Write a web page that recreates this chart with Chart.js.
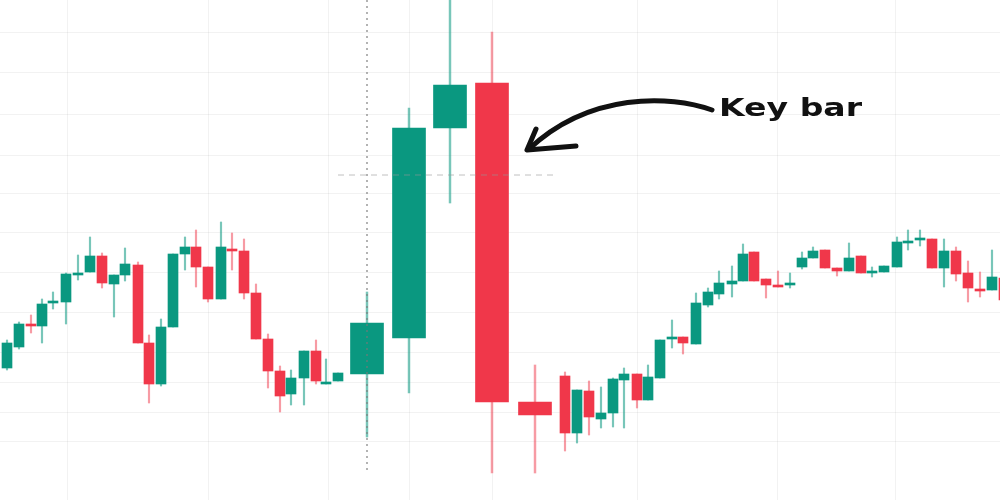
<!DOCTYPE html>
<html>
<head>
<meta charset="utf-8">
<script src="https://cdn.jsdelivr.net/npm/chart.js@4.4.1/dist/chart.umd.min.js"></script>
<style>
  html, body { margin: 0; padding: 0; background: #fff; }
  #wrap { width: 1000px; height: 500px; position: relative; }
</style>
</head>
<body>
<div id="wrap"><canvas id="chart"></canvas></div>
<script>
// time slot of each candle (0..1000 across the view)
const slot = [7, 19, 31, 42, 53, 66, 78, 90, 102, 114, 125, 138, 149, 161, 173, 185, 196, 208, 221, 232,
  244, 256, 268, 280, 291, 304, 316, 326, 338,
  367, 409, 450, 492, 535,
  565, 577, 589, 601, 613, 624, 637, 648, 660, 672, 683, 696, 708, 719, 732, 743, 754, 766, 778, 790,
  802, 813, 825, 837, 849, 861, 872, 884, 897, 908, 920, 932, 944, 956, 968, 980, 992, 1004];

const open = [132, 153, 176, 174, 197, 198, 225, 228, 244, 216, 225, 235, 157, 116, 173, 246, 253, 233, 201, 251,
  249, 207, 161, 129, 106, 122, 149, 116, 119,
  126, 162, 372, 417, 98,
  124, 67, 109, 81, 87, 120, 126, 100, 122, 161, 163, 156, 195, 206, 216, 219, 248, 221, 215, 215,
  233, 242, 250, 232, 229, 244, 227, 228, 233, 257, 260, 261, 232, 249, 227, 211, 210, 222];

const high = [160, 178, 185, 201, 208, 227, 245, 263, 247, 225, 252, 238, 165, 181, 246, 263, 270, 233, 278, 267,
  261, 216, 166, 134, 130, 149, 160, 141, 127,
  208, 392, 505, 468, 135,
  128, 110, 119, 113, 122, 132, 126, 135, 160, 180, 163, 207, 212, 229, 234, 256, 248, 221, 229, 227,
  248, 253, 250, 232, 257, 244, 233, 234, 263, 270, 270, 261, 261, 253, 239, 228, 250, 223];

const low = [130, 151, 167, 157, 191, 176, 220, 228, 212, 183, 219, 157, 97, 114, 173, 230, 213, 198, 201, 230,
  201, 161, 112, 88, 95, 95, 116, 116, 119,
  63, 107, 297, 27, 27,
  49, 57, 65, 72, 73, 72, 92, 100, 122, 152, 146, 156, 193, 201, 203, 219, 219, 202, 213, 212,
  231, 242, 232, 224, 229, 227, 223, 228, 233, 250, 254, 232, 213, 219, 198, 203, 210, 198];

const close = [157, 176, 174, 196, 199, 226, 227, 244, 217, 225, 236, 157, 116, 173, 246, 253, 233, 201, 253, 249,
  207, 161, 129, 104, 122, 149, 119, 118, 127,
  177, 372, 415, 98, 85,
  67, 110, 83, 87, 121, 126, 100, 123, 160, 163, 157, 197, 208, 217, 219, 246, 219, 215, 213, 217,
  242, 249, 232, 229, 242, 227, 229, 234, 258, 259, 262, 232, 249, 226, 212, 209, 223, 200];

// the five wide candles in the zoomed middle
const wideBars = [29, 30, 31, 32, 33];

// faint background grid
const gridX = [67, 208, 328, 409, 492, 637, 777, 895];
const gridY = [467, 428, 385, 345, 307, 267, 228, 188, 148, 118, 88, 59];

const UP = "#0a9880";
const DOWN = "#f0374a";
const UP_WICK = "rgba(10,152,128,0.55)";
const DOWN_WICK = "rgba(240,55,74,0.5)";

function pick(wide) {
  const idx = slot.map((_, i) => i).filter(i => wideBars.includes(i) === wide);
  return {
    body: idx.map(i => ({ x: slot[i], y: [open[i], close[i]], up: close[i] >= open[i] })),
    wick: idx.map(i => ({ x: slot[i], y: [low[i], high[i]], up: close[i] >= open[i] })),
  };
}
const small = pick(false);
const wide = pick(true);

const bodyColor = c => (c.raw && c.raw.up ? UP : DOWN);
const wickColor = c => (c.raw && c.raw.up ? UP_WICK : DOWN_WICK);

// crosshair, arrow and label
const overlay = {
  id: "overlay",
  afterDatasetsDraw(chart) {
    const { ctx, scales } = chart;
    const px = v => scales.x.getPixelForValue(v);
    const py = v => scales.y.getPixelForValue(v);
    ctx.save();

    ctx.strokeStyle = "rgba(120,120,120,0.75)";
    ctx.lineWidth = 1.5;
    ctx.setLineDash([2, 4]);
    ctx.beginPath();
    ctx.moveTo(px(367), py(500));
    ctx.lineTo(px(367), py(30));
    ctx.stroke();

    ctx.strokeStyle = "rgba(150,150,150,0.6)";
    ctx.lineWidth = 1;
    ctx.setLineDash([6, 5]);
    ctx.beginPath();
    ctx.moveTo(px(338), py(325));
    ctx.lineTo(px(553), py(325));
    ctx.stroke();
    ctx.setLineDash([]);

    ctx.strokeStyle = "#111";
    ctx.lineCap = "round";
    ctx.lineJoin = "round";
    ctx.lineWidth = 5;
    ctx.beginPath();
    ctx.moveTo(px(712), py(390));
    ctx.bezierCurveTo(px(670), py(405), px(590), py(408), px(529), py(351));
    ctx.stroke();
    ctx.beginPath();
    ctx.moveTo(px(536), py(371));
    ctx.lineTo(px(527), py(350));
    ctx.lineTo(px(576), py(354));
    ctx.stroke();

    const label = "Key bar";
    ctx.font = "bold 25px 'DejaVu Sans'";
    ctx.fillStyle = "#111";
    ctx.textBaseline = "alphabetic";
    const w = ctx.measureText(label).width;
    const x0 = px(719), x1 = px(862);
    ctx.translate(x0, py(384));
    ctx.scale((x1 - x0) / w, 1);
    ctx.fillText(label, 0, 0);
    ctx.restore();
  },
};

const gridLine = "rgba(0,0,0,0.05)";

new Chart(document.getElementById("chart"), {
  type: "bar",
  data: {
    datasets: [
      { data: small.body, backgroundColor: bodyColor, barThickness: 10, order: 0 },
      { data: wide.body, backgroundColor: bodyColor, barThickness: 33, order: 0 },
      { data: small.wick, backgroundColor: wickColor, barThickness: 1.5, order: 1 },
      { data: wide.wick, backgroundColor: wickColor, barThickness: 1.8, order: 1 },
    ],
  },
  options: {
    responsive: true,
    maintainAspectRatio: false,
    animation: false,
    grouped: false,
    borderWidth: 0,
    borderSkipped: false,
    layout: { padding: 0 },
    plugins: { legend: { display: false }, tooltip: { enabled: false } },
    scales: {
      x: {
        type: "linear",
        min: 0,
        max: 1000,
        offset: false,
        ticks: { display: false },
        border: { display: false },
        grid: { color: gridLine, drawTicks: false, offset: false },
        afterBuildTicks: s => { s.ticks = gridX.map(v => ({ value: v })); },
      },
      y: {
        min: 0,
        max: 500,
        ticks: { display: false },
        border: { display: false },
        grid: { color: gridLine, drawTicks: false },
        afterBuildTicks: s => { s.ticks = gridY.map(v => ({ value: v })); },
      },
    },
  },
  plugins: [overlay],
});
</script>
</body>
</html>
